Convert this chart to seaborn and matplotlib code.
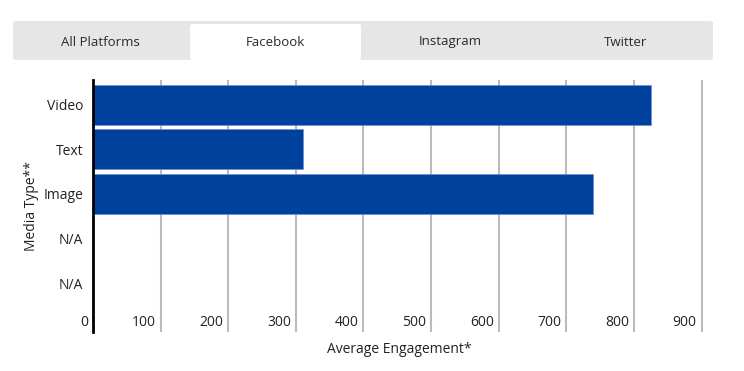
"""
Average engagement per media type on Facebook, drawn as a horizontal bar chart
under a row of platform tabs.
"""

import matplotlib.pyplot as plt
import matplotlib.transforms as mtransforms
from matplotlib.patches import FancyBboxPatch
import pandas as pd
import seaborn as sns

# data
platform_tabs = ['All Platforms', 'Facebook', 'Instagram', 'Twitter']
selected_tab = 'Facebook'
media_types = ['Video', 'Text', 'Image', 'N/A', 'N/A']
engagement = [825, 310, 739, 0, 0]
x_ticks = [0, 100, 200, 300, 400, 500, 600, 700, 800, 900]

BAR_COLOR = '#00419E'
TEXT_COLOR = '#222222'


def draw_tabs(fig):
    """Grey tab strip with the selected platform on a white tab."""
    W, H = 744, 371
    strip = FancyBboxPatch((13 / W, 1 - 60 / H), 700 / W, 39 / H,
                           boxstyle='round,pad=0,rounding_size=0.006',
                           transform=fig.transFigure, facecolor='#e6e6e6',
                           edgecolor='none')
    fig.patches.append(strip)
    tab_w = 175
    for i, name in enumerate(platform_tabs):
        x0 = 13 + i * tab_w
        if name == selected_tab:
            tab = FancyBboxPatch(((x0 + 2) / W, 1 - 60 / H), (tab_w - 4) / W, 36 / H,
                                 boxstyle='round,pad=0,rounding_size=0.005',
                                 transform=fig.transFigure, facecolor='white',
                                 edgecolor='none')
            fig.patches.append(tab)
        fig.text((x0 + tab_w / 2) / W, 1 - 42 / H, name, ha='center', va='center',
                 fontsize=9.5, color='#2a2a2a')


def main():
    sns.set_theme(style='white')
    plt.rcParams['font.family'] = ['Open Sans', 'DejaVu Sans']

    # unique slot keys so the two N/A rows stay separate
    df = pd.DataFrame({
        'slot': [f'{m}_{i}' for i, m in enumerate(media_types)],
        'engagement': engagement,
    })

    fig = plt.figure(figsize=(7.44, 3.71), dpi=100)
    ax = fig.add_axes([93 / 744, 1 - 332 / 371, 612 / 744, 252 / 371])

    sns.barplot(data=df, x='engagement', y='slot', orient='h', color=BAR_COLOR,
                saturation=1, width=0.9, edgecolor='#6d8fd0', linewidth=0.5, ax=ax)

    ax.set_xlim(0, 905)
    ax.set_ylim(5.1, -0.56)
    ax.set_xticks(x_ticks)
    ax.set_xticklabels([])
    ax.tick_params(axis='x', length=0)
    ax.grid(axis='x', color='#bbbbbb', linewidth=1.5)
    ax.set_axisbelow(True)

    ax.set_yticks(range(len(media_types)))
    ax.set_yticklabels(media_types, fontsize=10, color=TEXT_COLOR)
    ax.tick_params(axis='y', length=0, pad=7)

    for side in ['top', 'right', 'bottom']:
        ax.spines[side].set_visible(False)
    ax.spines['left'].set_color('black')
    ax.spines['left'].set_linewidth(2)
    ax.spines['left'].set_zorder(5)

    # x tick labels sit inside the plot, just left of each gridline
    offset = mtransforms.ScaledTranslation(-5 / 100, 0, fig.dpi_scale_trans)
    trans = mtransforms.blended_transform_factory(ax.transData, ax.transAxes) + offset
    for t in x_ticks:
        ax.text(t, 10 / 252, str(t), transform=trans, ha='right', va='center',
                fontsize=10, color=TEXT_COLOR)

    ax.set_xlabel('Average Engagement*', fontsize=10, color=TEXT_COLOR, labelpad=4)
    ax.set_ylabel('Media Type**', fontsize=10, color=TEXT_COLOR, labelpad=3.5)

    draw_tabs(fig)

    fig.savefig('out.png', dpi=100)
    plt.close(fig)


if __name__ == '__main__':
    main()
